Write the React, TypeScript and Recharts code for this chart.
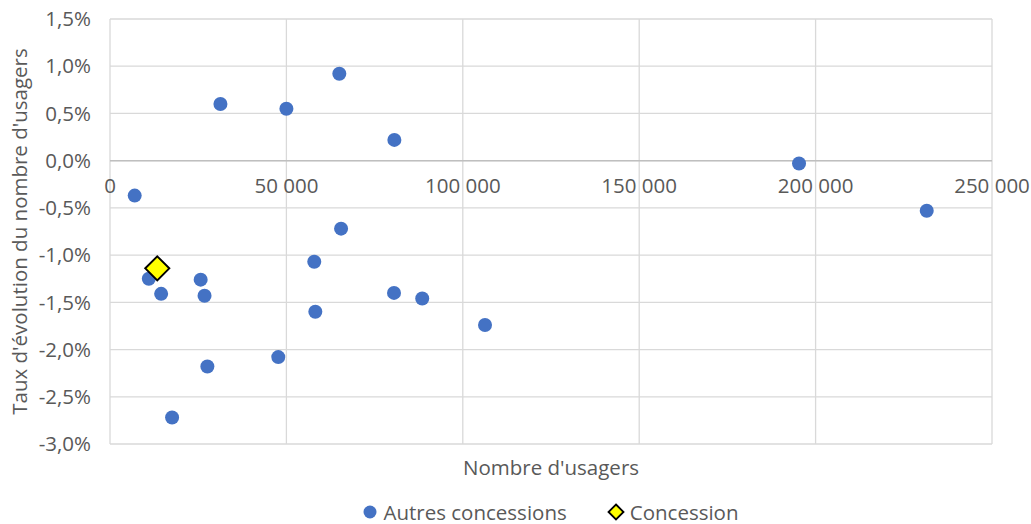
import React from 'react';
import {
  ScatterChart,
  Scatter,
  XAxis,
  YAxis,
  ZAxis,
  CartesianGrid,
  ReferenceLine,
  Legend,
} from 'recharts';

// Autres concessions: users and growth rate (%)
const otherUsers = [
  7000, 31300, 50000, 65000, 80600, 195300, 231500, 65500, 57900, 11000,
  14500, 25700, 26800, 80500, 88500, 58200, 106300, 47700, 27600, 17600,
];
const otherRates = [
  -0.37, 0.6, 0.55, 0.92, 0.22, -0.03, -0.53, -0.72, -1.07, -1.25,
  -1.41, -1.26, -1.43, -1.4, -1.46, -1.6, -1.74, -2.08, -2.18, -2.72,
];
const concessionUsers = [13400];
const concessionRates = [-1.14];

const xTicks = [0, 50000, 100000, 150000, 200000, 250000];
const yTicks = [-3, -2.5, -2, -1.5, -1, -0.5, 0, 0.5, 1, 1.5];

const others = otherUsers.map((u, i) => ({ x: u, y: otherRates[i] }));
const concession = concessionUsers.map((u, i) => ({ x: u, y: concessionRates[i] }));

const W = 1031;
const H = 524;
const TOP = 19;
const YAXIS_W = 110;
const XAXIS_H = 40;
const LEGEND_H = 40;
const PLOT_H = H - TOP - XAXIS_H - LEGEND_H;
const FONT = "'Open Sans', sans-serif";
const FS = 20.5;
const GREY = '#595959';

const fmtX = (v: number) => String(v).replace(/\B(?=(\d{3})+(?!\d))/g, '\u00a0');
const fmtY = (v: number) => v.toFixed(1).replace('.', ',') + '%';

// x labels sit under the zero line, not at the bottom of the plot
const XTick = (props: any) => {
  const { x, y, payload } = props;
  const shift = (PLOT_H * (0 - yTicks[0])) / (yTicks[yTicks.length - 1] - yTicks[0]);
  return (
    <text
      x={x}
      y={y - shift + 7}
      textAnchor="middle"
      dominantBaseline="hanging"
      fill={GREY}
      fontSize={FS}
      fontFamily={FONT}
    >
      {fmtX(payload.value)}
    </text>
  );
};

const Dot = (props: any) => (
  <circle cx={props.cx} cy={props.cy} r={7} fill="#4472c4" />
);

const Diamond = (props: any) => {
  const { cx, cy } = props;
  const s = 12;
  return (
    <polygon
      points={`${cx},${cy - s} ${cx + s},${cy} ${cx},${cy + s} ${cx - s},${cy}`}
      fill="#ffff00"
      stroke="#000"
      strokeWidth={2}
    />
  );
};

// legend is centred under the plot area, not the whole chart
const LegendContent = () => (
  <div
    style={{
      display: 'flex',
      justifyContent: 'center',
      alignItems: 'center',
      gap: 40,
      fontFamily: FONT,
      fontSize: FS,
      color: GREY,
      paddingTop: 14,
      paddingLeft: YAXIS_W,
    }}
  >
    <span style={{ display: 'flex', alignItems: 'center', gap: 6 }}>
      <svg width={14} height={14}>
        <circle cx={7} cy={7} r={6.5} fill="#4472c4" />
      </svg>
      Autres concessions
    </span>
    <span style={{ display: 'flex', alignItems: 'center', gap: 5 }}>
      <svg width={18} height={18}>
        <polygon points="9,1.5 16.5,9 9,16.5 1.5,9" fill="#ffff00" stroke="#000" strokeWidth={1.8} />
      </svg>
      Concession
    </span>
  </div>
);

export default function App() {
  return (
    <div style={{ position: 'absolute', left: 0, top: 0, background: '#fff' }}>
      <ScatterChart width={W} height={H} margin={{ top: TOP, right: 39, bottom: 0, left: 0 }}>
        <CartesianGrid stroke="#d9d9d9" strokeWidth={1.3} />
        <XAxis
          type="number"
          dataKey="x"
          domain={[0, 250000]}
          ticks={xTicks}
          height={XAXIS_H}
          axisLine={false}
          tickLine={false}
          tick={<XTick />}
          label={{
            value: "Nombre d'usagers",
            position: 'insideBottom',
            offset: 9,
            fill: GREY,
            fontSize: FS,
            fontFamily: FONT,
          }}
        />
        <YAxis
          type="number"
          dataKey="y"
          domain={[-3, 1.5]}
          ticks={yTicks}
          width={YAXIS_W}
          axisLine={false}
          tickLine={false}
          tickSize={0}
          tickMargin={19}
          tickFormatter={fmtY}
          tick={{ fill: GREY, fontSize: FS, fontFamily: FONT }}
          label={{
            value: "Taux d'évolution du nombre d'usagers",
            angle: -90,
            position: 'insideLeft',
            offset: 20,
            style: { textAnchor: 'middle' },
            fill: GREY,
            fontSize: FS,
            fontFamily: FONT,
          }}
        />
        <ZAxis range={[150, 150]} />
        <ReferenceLine y={0} stroke="#bfbfbf" strokeWidth={1.5} />
        <Legend verticalAlign="bottom" height={LEGEND_H} content={<LegendContent />} />
        <Scatter
          name="Autres concessions"
          data={others}
          shape={<Dot />}
          isAnimationActive={false}
        />
        <Scatter
          name="Concession"
          data={concession}
          shape={<Diamond />}
          isAnimationActive={false}
        />
      </ScatterChart>
    </div>
  );
}
